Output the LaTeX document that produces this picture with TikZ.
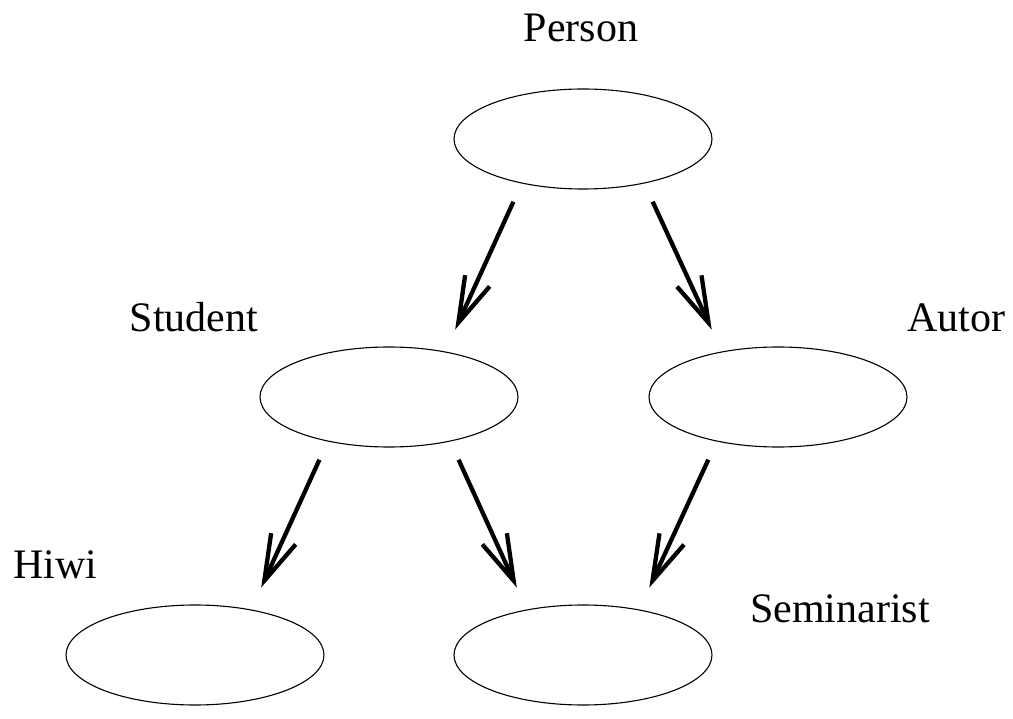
\documentclass[tikz,border=0pt]{standalone}
\usepackage{fontspec}
\setmainfont{Liberation Serif}
\usepackage{tikz}
\usetikzlibrary{arrows.meta,shapes.geometric}

\begin{document}
\begin{tikzpicture}[x=1pt, y=-1pt,
    cls/.style={ellipse, draw, line width=1.1pt, minimum width=258pt, minimum height=100pt, inner sep=0pt},
    lbl/.style={anchor=base, font=\fontsize{42}{50}\selectfont, inner sep=0pt},
    isa/.style={line width=4.3pt, shorten <=20pt, shorten >=24pt,
        -{Straight Barb[length=46pt, width=27pt, line width=4.3pt]}}]
    \useasboundingbox (0,0) rectangle (1013,719);

    % Classes
    \node[cls] (person) at (583,139) {};
    \node[cls] (student) at (389,397) {};
    \node[cls] (autor) at (778,397) {};
    \node[cls] (hiwi) at (195,655) {};
    \node[cls] (seminarist) at (583,655) {};

    % Names
    \node[lbl] (personname) at (581,42) {Person};
    \node[lbl] (studentname) at (194,332) {Student};
    \node[lbl] (autorname) at (956,332) {Autor};
    \node[lbl] (hiwiname) at (55,578) {Hiwi};
    \node[lbl] (seminaristname) at (840,622) {Seminarist};

    % Inheritance
    \draw[isa] (person.216) -- (student.39);
    \draw[isa] (person.324) -- (autor.141);
    \draw[isa] (student.216) -- (hiwi.39);
    \draw[isa] (student.324) -- (seminarist.141);
    \draw[isa] (autor.216) -- (seminarist.39);
\end{tikzpicture}
\end{document}
